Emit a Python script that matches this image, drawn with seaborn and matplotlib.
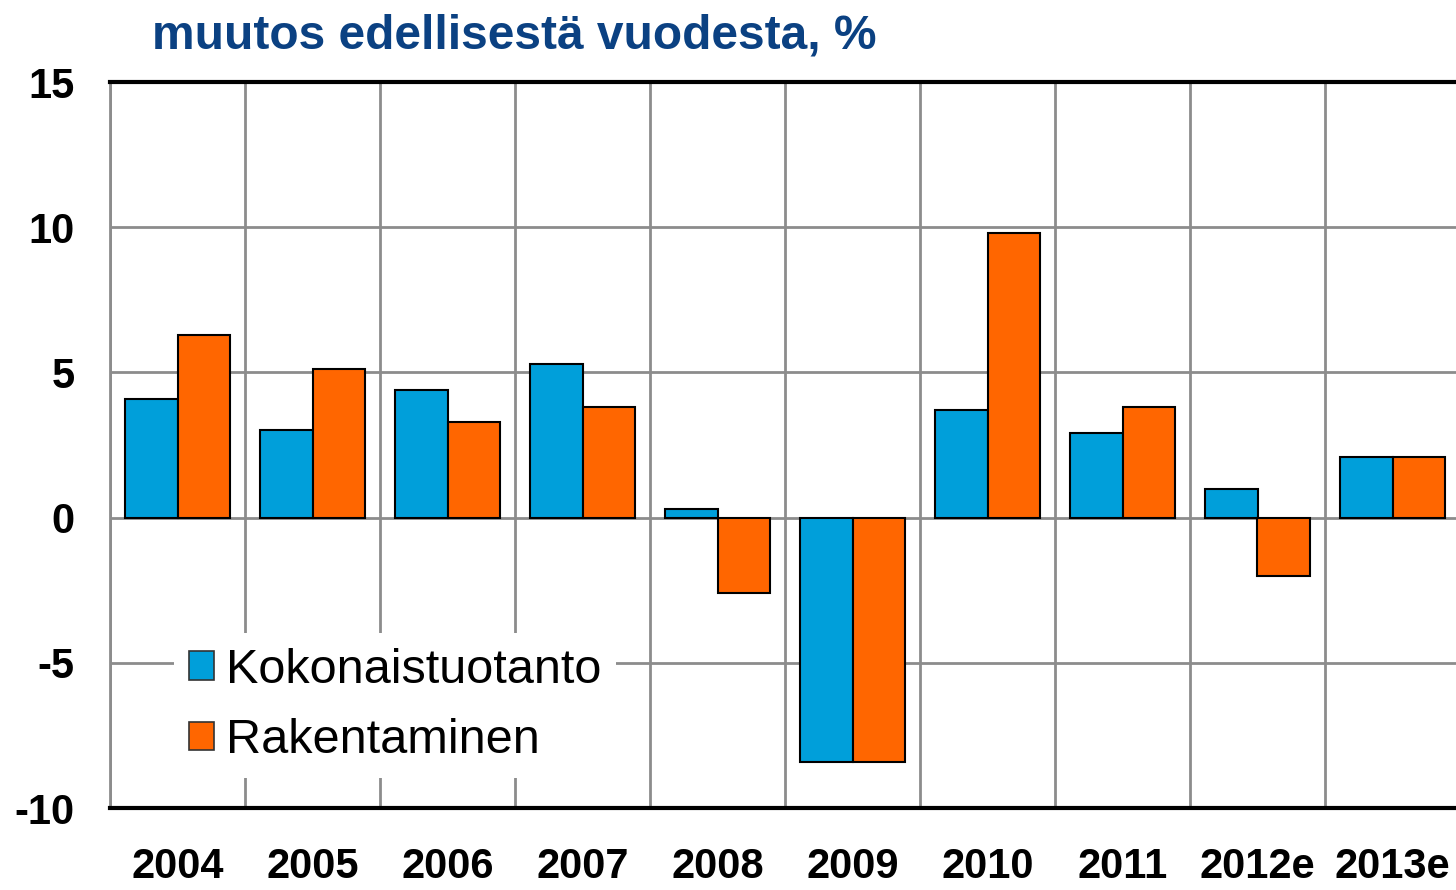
import pandas as pd
import seaborn as sns
import matplotlib.pyplot as plt
import numpy as np
from matplotlib.patches import Patch

# values
years = ['2004', '2005', '2006', '2007', '2008', '2009', '2010', '2011', '2012e', '2013e']
kokonaistuotanto = [4.1, 3.0, 4.4, 5.3, 0.3, -8.4, 3.7, 2.9, 1.0, 2.1]
rakentaminen = [6.3, 5.1, 3.3, 3.8, -2.6, -8.4, 9.8, 3.8, -2.0, 2.1]
series_names = ['Kokonaistuotanto', 'Rakentaminen']
colors = ['#009FDA', '#FF6600']
y_ticks = [-10, -5, 0, 5, 10, 15]
title = 'muutos edellisestä vuodesta, %'

df = pd.DataFrame({
    'year': years * 2,
    'value': kokonaistuotanto + rakentaminen,
    'series': [series_names[0]] * len(years) + [series_names[1]] * len(years),
})

sns.set_style('white')
plt.rcParams['font.family'] = ['Liberation Sans', 'DejaVu Sans']
plt.rcParams['text.color'] = 'black'

fig = plt.figure(figsize=(14.56, 8.9), dpi=100)
ax = fig.add_axes([110 / 1456, 1 - 808 / 890, 1350 / 1456, 726 / 890])

sns.barplot(data=df, x='year', y='value', hue='series', palette=colors,
            saturation=1, width=0.785, edgecolor='black', linewidth=1.5,
            ax=ax, legend=False)

ax.set_xlim(-0.5, len(years) - 0.5)
ax.set_ylim(-10, 15)
ax.set_yticks(y_ticks)
ax.set_yticklabels([str(t) for t in y_ticks], fontsize=30, fontweight='bold')
ax.set_xticks(np.arange(len(years)))
ax.set_xticklabels(years, fontsize=30, fontweight='bold')
ax.set_xlabel('')
ax.set_ylabel('')

# category boundaries as vertical grid lines
ax.set_xticks(np.arange(len(years) + 1) - 0.5, minor=True)
ax.grid(axis='x', which='minor', color='#8c8c8c', linewidth=2)
ax.grid(axis='y', which='major', color='#8c8c8c', linewidth=2)
ax.set_axisbelow(True)

ax.tick_params(axis='y', which='major', length=9.5, width=2, color='#8c8c8c',
               labelcolor='black', pad=16)
ax.tick_params(axis='x', which='both', length=0, labelcolor='black', pad=28)

ax.spines['top'].set_color('black')
ax.spines['top'].set_linewidth(3)
ax.spines['bottom'].set_color('black')
ax.spines['bottom'].set_linewidth(3)
ax.spines['left'].set_color('#8c8c8c')
ax.spines['left'].set_linewidth(2)
ax.spines['right'].set_visible(False)

handles = [Patch(facecolor=c, edgecolor='#333333', linewidth=1.2) for c in colors]
leg = ax.legend(handles, series_names, loc='upper left',
                bbox_to_anchor=(150 / 1456, 1 - 609 / 890),
                bbox_transform=fig.transFigure, fontsize=35,
                frameon=True, facecolor='white', edgecolor='none', framealpha=1,
                fancybox=False, handlelength=0.52, handleheight=0.52,
                handletextpad=0.25, labelspacing=0.52, borderpad=0.3)
leg.set_zorder(5)

fig.text(152 / 1456, 1 - 48 / 890, title, fontsize=34.5, fontweight='bold',
         color='#0B4182', va='baseline', ha='left')

fig.savefig('out.png', dpi=100)
